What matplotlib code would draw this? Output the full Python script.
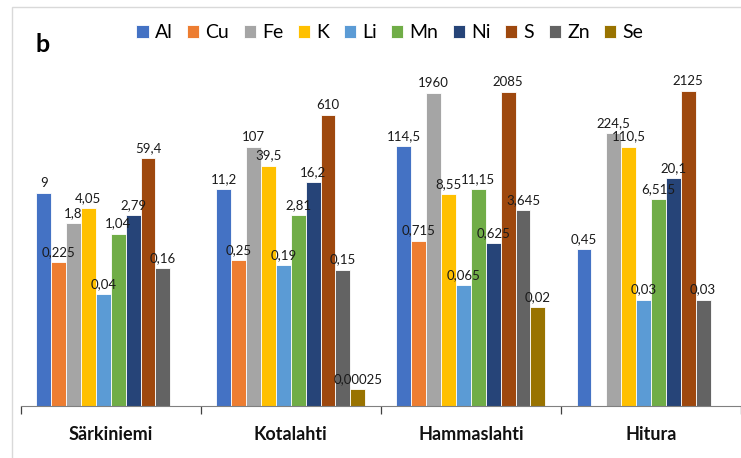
import numpy as np
import matplotlib
matplotlib.use("Agg")
import matplotlib.pyplot as plt
from matplotlib.patches import Rectangle

plt.rcParams['font.family'] = ['Lato', 'DejaVu Sans']

sites = ['Särkiniemi', 'Kotalahti', 'Hammaslahti', 'Hitura']
elements = ['Al', 'Cu', 'Fe', 'K', 'Li', 'Mn', 'Ni', 'S', 'Zn', 'Se']
colors = ['#4472C4', '#ED7D31', '#A5A5A5', '#FFC000', '#5B9BD5',
          '#70AD47', '#264478', '#9E480E', '#636363', '#997300']

# concentrations per site, one list per element (nan = not measured)
nan = np.nan
Al = [9, 11.2, 114.5, 0.45]
Cu = [0.225, 0.25, 0.715, nan]
Fe = [1.8, 107, 1960, 224.5]
K = [4.05, 39.5, 8.55, 110.5]
Li = [0.04, 0.19, 0.065, 0.03]
Mn = [1.04, 2.81, 11.15, 6.515]
Ni = [2.79, 16.2, 0.625, 20.1]
S = [59.4, 610, 2085, 2125]
Zn = [0.16, 0.15, 3.645, 0.03]
Se = [nan, 0.00025, 0.02, nan]
series = [Al, Cu, Fe, K, Li, Mn, Ni, S, Zn, Se]

W, H = 741, 458
fig = plt.figure(figsize=(W / 100, H / 100), dpi=100)
# thin frame around the panel
fig.patches.append(Rectangle((12 / W, -0.1), 1.2, 1 - 7 / H + 0.1,
                             transform=fig.transFigure, fill=False,
                             edgecolor='#d9d9d9', lw=1))

ax = fig.add_axes([20.7 / W, 52 / H, 1 - 20.7 / W, 346 / H])
x = np.arange(len(sites))
w = 0.0827
for i, (name, vals, c) in enumerate(zip(elements, series, colors)):
    pos = x + (i - 4.5) * w
    vals = np.array(vals, dtype=float)
    ok = ~np.isnan(vals)
    ax.bar(pos[ok], vals[ok], width=w, color=c, edgecolor='white',
           linewidth=0.6, label=name)
    for px, v in zip(pos[ok], vals[ok]):
        ax.annotate(f"{v:g}".replace('.', ','), (px, v), xytext=(0, 3),
                    textcoords='offset points', ha='center', va='bottom',
                    fontsize=9.5, color='#1a1a1a')

ax.set_yscale('log')
ax.set_ylim(1e-4, 10 ** 4.06)
ax.set_xlim(-0.5, -0.5 + (W - 20.7) / 182.5)
ax.yaxis.set_visible(False)
for sp in ['left', 'right', 'top']:
    ax.spines[sp].set_visible(False)
ax.spines['bottom'].set_color('#808080')

ax.set_xticks(np.arange(-0.5, 4, 1.0))
ax.set_xticklabels([])
ax.tick_params(axis='x', length=6, width=0.9, color='#404040', direction='out')
for xi, s in zip(x, sites):
    ax.annotate(s, (xi, 0), xycoords=('data', 'axes fraction'),
                xytext=(0, -20.5), textcoords='offset points', ha='center',
                va='center', fontsize=13, fontweight='bold', color='#111111')

fig.legend(loc='center', bbox_to_anchor=(390 / W, 1 - 33 / H), ncol=10,
           frameon=False, fontsize=14, handlelength=0.62, handleheight=0.62,
           handletextpad=0.32, columnspacing=0.75, borderpad=0)
fig.text(43 / W, 1 - 44 / H, 'b', fontsize=18, fontweight='bold',
         ha='center', va='center')

fig.savefig('out.png', dpi=100)
